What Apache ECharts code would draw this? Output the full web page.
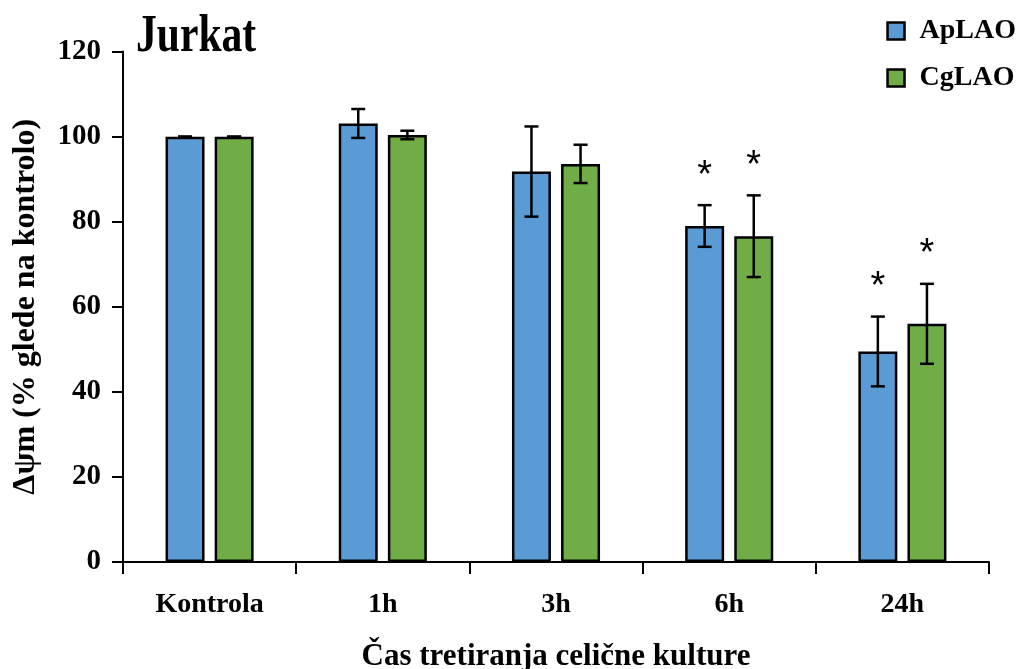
<!DOCTYPE html>
<html>
<head>
<meta charset="utf-8">
<script src="https://cdn.jsdelivr.net/npm/echarts@6/dist/echarts.min.js"></script>
<style>
  html, body { margin: 0; padding: 0; background: #fff; }
  #chart { width: 1021px; height: 669px; }
</style>
</head>
<body>
<div id="chart"></div>
<script>
// podatki
var categories = ['Kontrola', '1h', '3h', '6h', '24h'];
var apMean = [100, 103.1, 91.8, 79.0, 49.5];
var apErr  = [0, 3.4, 10.6, 4.9, 8.2];
var apSig  = [false, false, false, true, true];
var cgMean = [100, 100.4, 93.6, 76.6, 56.0];
var cgErr  = [0, 1.0, 4.5, 9.6, 9.4];
var cgSig  = [false, false, false, true, true];
var yTicks = [0, 20, 40, 60, 80, 100, 120];

var FONT = '"Liberation Serif", "Times New Roman", serif';
var BAR_W = 0.225;   // delez sirine kategorije
var BAR_GAP = 0.26;  // razmik med stolpci glede na sirino stolpca

var chart = echarts.init(document.getElementById('chart'));

// error bar + zvezdica
function errorRender(means, errs, sig, side) {
  return function (params, api) {
    var i = api.value(0);
    var band = api.size([1, 0])[0];
    var bw = band * BAR_W;
    var off = side * (bw + bw * BAR_GAP) / 2;
    var c = api.coord([i, means[i]]);
    var x = c[0] + off;
    var top = api.coord([i, means[i] + errs[i]])[1];
    var bot = api.coord([i, means[i] - errs[i]])[1];
    var hw = 7;
    var st = { stroke: '#000', lineWidth: 2.5 };
    var kids = [
      { type: 'line', shape: { x1: x, y1: top, x2: x, y2: bot }, style: st },
      { type: 'line', shape: { x1: x - hw, y1: top, x2: x + hw, y2: top }, style: st },
      { type: 'line', shape: { x1: x - hw, y1: bot, x2: x + hw, y2: bot }, style: st }
    ];
    if (sig[i]) {
      kids.push({
        type: 'text',
        style: {
          text: '*', x: x, y: top - 10,
          align: 'center', verticalAlign: 'bottom',
          font: 'normal 38px "Liberation Sans", Arial, sans-serif',
          fill: '#000'
        }
      });
    }
    return { type: 'group', children: kids };
  };
}

var option = {
  animation: false,
  graphic: [{
    type: 'text',
    left: 136, top: 12,
    scaleX: 0.8,
    style: {
      text: 'Jurkat',
      font: 'bold 52px ' + FONT,
      fill: '#000'
    }
  }],
  legend: {
    orient: 'vertical',
    right: 0, top: 12,
    itemWidth: 17, itemHeight: 17,
    itemGap: 19,
    icon: 'rect',
    itemStyle: { borderColor: '#000', borderWidth: 2.5 },
    textStyle: { fontFamily: FONT, fontWeight: 'bold', fontSize: 28, color: '#000', padding: [0, 0, 0, 10] },
    data: ['ApLAO', 'CgLAO']
  },
  grid: { left: 123, right: 32, top: 51.6, bottom: 107, containLabel: false, outerBoundsMode: 'none' },
  xAxis: {
    type: 'category',
    data: categories,
    name: 'Čas tretiranja celične kulture',
    nameLocation: 'middle',
    nameGap: 79,
    nameTextStyle: { fontFamily: FONT, fontWeight: 'bold', fontSize: 31, color: '#000' },
    axisLine: { lineStyle: { color: '#000', width: 2 } },
    axisTick: { show: true, length: 12, lineStyle: { color: '#000', width: 2 } },
    axisLabel: { fontFamily: FONT, fontWeight: 'bold', fontSize: 28, color: '#000', margin: 29 }
  },
  yAxis: {
    type: 'value',
    min: yTicks[0], max: yTicks[yTicks.length - 1], interval: 20,
    name: 'Δψm (% glede na kontrolo)',
    nameLocation: 'middle',
    nameGap: 81,
    nameTextStyle: { fontFamily: FONT, fontWeight: 'bold', fontSize: 32, color: '#000' },
    splitLine: { show: false },
    axisLine: { show: true, lineStyle: { color: '#000', width: 2 } },
    axisTick: { show: true, length: 11, lineStyle: { color: '#000', width: 2 } },
    axisLabel: { fontFamily: FONT, fontWeight: 'bold', fontSize: 29, color: '#000', margin: 22 }
  },
  series: [
    {
      name: 'ApLAO', type: 'bar', data: apMean,
      barWidth: (BAR_W * 100) + '%', barGap: (BAR_GAP * 100) + '%',
      itemStyle: { color: '#5B9BD5', borderColor: '#000', borderWidth: 2.5 }
    },
    {
      name: 'CgLAO', type: 'bar', data: cgMean,
      barWidth: (BAR_W * 100) + '%', barGap: (BAR_GAP * 100) + '%',
      itemStyle: { color: '#70AD47', borderColor: '#000', borderWidth: 2.5 }
    },
    {
      type: 'custom', silent: true, z: 10,
      data: categories.map(function (c, i) { return [i]; }),
      renderItem: errorRender(apMean, apErr, apSig, -1)
    },
    {
      type: 'custom', silent: true, z: 10,
      data: categories.map(function (c, i) { return [i]; }),
      renderItem: errorRender(cgMean, cgErr, cgSig, 1)
    }
  ]
};
chart.setOption(option);
</script>
</body>
</html>
